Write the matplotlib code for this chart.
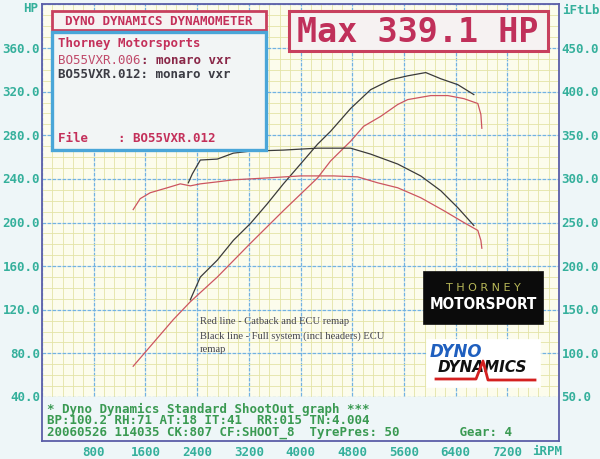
import numpy as np
import matplotlib
matplotlib.use("Agg")
import matplotlib.pyplot as plt
from matplotlib.patches import Rectangle
from matplotlib.ticker import MultipleLocator

# --- data (RPM, HP, ft-lb) ---
red_hp_rpm = [1411, 2031, 2295, 2713, 3225, 3736, 4264, 4465, 4775, 4977, 5240,
              5504, 5659, 6016, 6279, 6527, 6744, 6791, 6806]
red_hp = [68.2, 110.9, 127.3, 150.0, 180.9, 210.9, 240.9, 256.4, 274.5, 288.2, 297.3,
          308.2, 312.7, 316.4, 316.4, 313.6, 309.1, 299.1, 286.4]

black_hp_rpm = [2295, 2450, 2713, 2961, 3225, 3488, 3736, 4000, 4264, 4465, 4775,
                5085, 5395, 5659, 5938, 6171, 6434, 6682]
black_hp = [129.1, 150.0, 165.5, 183.6, 199.1, 217.3, 235.5, 253.6, 271.8, 283.6, 304.5,
            321.8, 330.9, 334.5, 337.5, 331.8, 326.4, 317.3]

red_tq_rpm = [1411, 1519, 1674, 1938, 2140, 2295, 2450, 2713, 2961, 3488, 4000, 4512,
              4884, 5194, 5504, 5860, 6217, 6527, 6744, 6791, 6806]
red_tq = [264.8, 277.3, 284.1, 289.8, 294.3, 292.0, 294.3, 296.6, 298.9, 301.1, 303.4,
          303.4, 302.3, 295.5, 289.8, 278.4, 263.6, 250.0, 240.9, 229.5, 220.5]

black_tq_rpm = [2264, 2326, 2450, 2713, 2961, 3225, 3736, 4264, 4775, 5085, 5504,
                5860, 6171, 6434, 6682]
black_tq = [295.5, 305.7, 321.6, 322.7, 329.5, 331.8, 333.0, 335.2, 335.2, 328.4,
            317.0, 303.4, 286.4, 267.0, 246.6]

hp_ticks = [40, 80, 120, 160, 200, 240, 280, 320, 360]
tq_ticks = [50, 100, 150, 200, 250, 300, 350, 400, 450]
rpm_ticks = [800, 1600, 2400, 3200, 4000, 4800, 5600, 6400, 7200]

info_lines = [
    "* Dyno Dynamics Standard ShootOut graph ***",
    "BP:100.2 RH:71 AT:18 IT:41  RR:015 TN:4.004",
    "20060526 114035 CK:807 CF:SHOOT_8  TyrePres: 50        Gear: 4",
]
note_lines = [
    "Red line - Catback and ECU remap",
    "Black line - Full system (incl headers) ECU",
    "remap",
]

W, H = 600, 460
BG = "#eef6f8"
PLOT_BG = "#fcfcec"
FRAME = "#5b5ea8"
TEAL = "#35b09c"
GREEN = "#3a9a52"
RED_TXT = "#c4305a"
RED_LINE = "#cc5560"
BLACK_LINE = "#3a3a3a"
MONO = "DejaVu Sans Mono"


def fx(x):
    return x / W


def fy(y):
    return 1 - y / H


def box(fig, x0, y0, x1, y1, ec, fc, lw=2.0):
    fig.add_artist(Rectangle((fx(x0), fy(y1)), (x1 - x0) / W, (y1 - y0) / H,
                             transform=fig.transFigure, ec=ec, fc=fc, lw=lw, zorder=5))


def label(fig, x, y, s, **kw):
    kw.setdefault("family", MONO)
    kw.setdefault("fontweight", "bold")
    kw.setdefault("va", "center")
    kw.setdefault("zorder", 6)
    fig.text(fx(x), fy(y), s, **kw)


fig = plt.figure(figsize=(6, 4.6), dpi=100, facecolor=BG)
ax = fig.add_axes([fx(42), fy(441.6), (559 - 42) / W, 436.2 / H])
ax.set_facecolor(PLOT_BG)
ax.set_xlim(0, 8000)
ax.set_ylim(0, 400)

ax.xaxis.set_major_locator(MultipleLocator(800))
ax.xaxis.set_minor_locator(MultipleLocator(160))
ax.yaxis.set_major_locator(MultipleLocator(40))
ax.yaxis.set_minor_locator(MultipleLocator(10))
ax.grid(which="minor", color="#e4e4a6", lw=0.6)
ax.grid(which="major", color="#72b2e2", lw=0.9, ls=(0, (3, 1)))
ax.set_axisbelow(True)
ax.tick_params(which="both", length=0, labelbottom=False, labelleft=False)
for sp in ax.spines.values():
    sp.set_color(FRAME)
    sp.set_linewidth(1.3)

# panel under the 40 HP line holds the run info
ax.add_patch(Rectangle((0, 0), 8000, 40, fc=BG, ec="none", zorder=1))

ax.plot(red_hp_rpm, red_hp, color=RED_LINE, lw=0.9, zorder=3)
ax.plot(black_hp_rpm, black_hp, color=BLACK_LINE, lw=0.9, zorder=3)

ax2 = ax.twinx()
ax2.set_ylim(0, 500)
ax2.plot(red_tq_rpm, red_tq, color=RED_LINE, lw=0.9, zorder=3)
ax2.plot(black_tq_rpm, black_tq, color=BLACK_LINE, lw=0.9, zorder=3)
ax2.axis("off")

# axis labels drawn like the dyno printout
for v in hp_ticks:
    ax.text(-0.004, v / 400, f"{v:.1f}", transform=ax.transAxes, ha="right", va="center",
            color=TEAL, family=MONO, fontweight="bold", fontsize=9)
for v in tq_ticks:
    ax.text(1.005, v / 500, f"{v:.1f}", transform=ax.transAxes, ha="left", va="center",
            color=TEAL, family=MONO, fontweight="bold", fontsize=9)
for v in rpm_ticks:
    ax.text(v / 8000, -0.025, f"{v}", transform=ax.transAxes, ha="center", va="center",
            color=TEAL, family=MONO, fontweight="bold", fontsize=9)
label(fig, 38, 8, "HP", ha="right", color=TEAL, fontsize=9)
label(fig, 562, 10, "iFtLb", ha="left", color=TEAL, fontsize=9)
label(fig, 532, 452, "iRPM", ha="left", color=TEAL, fontsize=9)

# run info text
for i, s in enumerate(info_lines):
    label(fig, 47, 409 + 12 * i, s, ha="left", color=GREEN, fontsize=9)

# header boxes
box(fig, 52, 12, 266, 31, "#c8405e", "#f6f2f2")
label(fig, 159, 21.5, "DYNO DYNAMICS DYNAMOMETER", ha="center", color=RED_TXT, fontsize=9)

box(fig, 52, 33, 266, 151, "#4aa6d8", "#f2f5f5", lw=2.4)
label(fig, 58, 44, "Thorney Motorsports", ha="left", color=RED_TXT, fontsize=9)
label(fig, 58, 61, "BO55VXR.006", ha="left", color="#c04a6a", fontsize=9, fontweight="normal")
label(fig, 58 + 11 * 7.52, 61, ": monaro vxr", ha="left", color="#8a2848", fontsize=9)
label(fig, 58, 75, "BO55VXR.012: monaro vxr", ha="left", color="#3c3c44", fontsize=9)
label(fig, 58, 138, "File    : BO55VXR.012", ha="left", color=RED_TXT, fontsize=9)

box(fig, 289, 12, 548, 52, "#c8405e", "#f6f2f2", lw=2.2)
label(fig, 418, 32, "Max 339.1 HP", ha="center", color="#c0305a", fontsize=24)

# note written on the chart
for i, s in enumerate(note_lines):
    fig.text(fx(200), fy(322 + 14 * i), s, family="Liberation Serif", fontsize=7.6,
             color="#45454f", va="center", zorder=6)

# Thorney Motorsport logo
box(fig, 423, 272, 543, 325, "#111111", "#0b0b0b", lw=0.5)
label(fig, 483, 288, "T H O R N E Y", ha="center", color="#b8b858", fontsize=8,
      family="DejaVu Sans", fontweight="normal")
label(fig, 483, 305, "MOTORSPORT", ha="center", color="white", fontsize=11,
      family="DejaVu Sans", fontstretch="condensed")

# Dyno Dynamics logo
box(fig, 426, 340, 540, 388, "white", "white", lw=0.5)
label(fig, 430, 352, "DYNO", ha="left", color="#1f5fbf", fontsize=12,
      family="DejaVu Sans", style="italic")
label(fig, 438, 368, "DYNAMICS", ha="left", color="#101010", fontsize=11,
      family="DejaVu Sans", style="italic")
fig.add_artist(plt.Line2D([fx(436), fx(476), fx(483), fx(488), fx(535)],
                          [fy(380), fy(380), fy(362), fy(381), fy(381)],
                          transform=fig.transFigure, color="#d42020", lw=2, zorder=7))

fig.savefig("out.png", dpi=100, facecolor=BG)
